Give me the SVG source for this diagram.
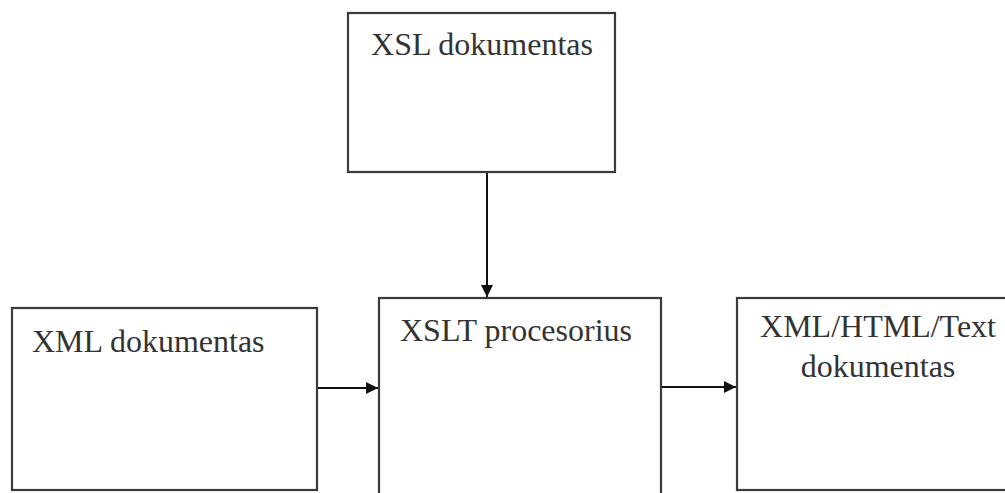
<svg xmlns="http://www.w3.org/2000/svg" width="1005" height="493" viewBox="0 0 1005 493">
  <style>
    .box { fill: #ffffff; stroke: #3a3a3a; stroke-width: 2.2; }
    .label { font-family: "Liberation Serif", "Times New Roman", serif; font-size: 32px; fill: #333333; }
    .edge { fill: none; stroke: #111111; stroke-width: 2; }
  </style>
  <defs>
    <marker id="arrow" viewBox="0 0 12 12" refX="12" refY="6" markerWidth="12" markerHeight="12" markerUnits="userSpaceOnUse" orient="auto">
      <path d="M0,0 L12,6 L0,12 Z" fill="#111111"/>
    </marker>
  </defs>
  <rect width="1005" height="493" fill="#ffffff"/>

  <g id="connectors">
    <line class="edge" x1="487" y1="172" x2="487" y2="297" marker-end="url(#arrow)"/>
    <line class="edge" x1="317" y1="388" x2="378" y2="388" marker-end="url(#arrow)"/>
    <line class="edge" x1="661" y1="387" x2="736" y2="387" marker-end="url(#arrow)"/>
  </g>

  <g id="xsl-doc">
    <rect class="box" x="348" y="13" width="267" height="159"/>
    <text class="label" x="482" y="55" text-anchor="middle">XSL dokumentas</text>
  </g>

  <g id="xml-doc">
    <rect class="box" x="12" y="308" width="305" height="182"/>
    <text class="label" x="32" y="352">XML dokumentas</text>
  </g>

  <g id="xslt-processor">
    <rect class="box" x="379" y="298" width="282" height="210"/>
    <text class="label" x="400" y="341">XSLT procesorius</text>
  </g>

  <g id="output-doc">
    <rect class="box" x="737" y="298" width="280" height="192"/>
    <text class="label" x="878" y="337" text-anchor="middle">XML/HTML/Text</text>
    <text class="label" x="878" y="377" text-anchor="middle">dokumentas</text>
  </g>
</svg>
